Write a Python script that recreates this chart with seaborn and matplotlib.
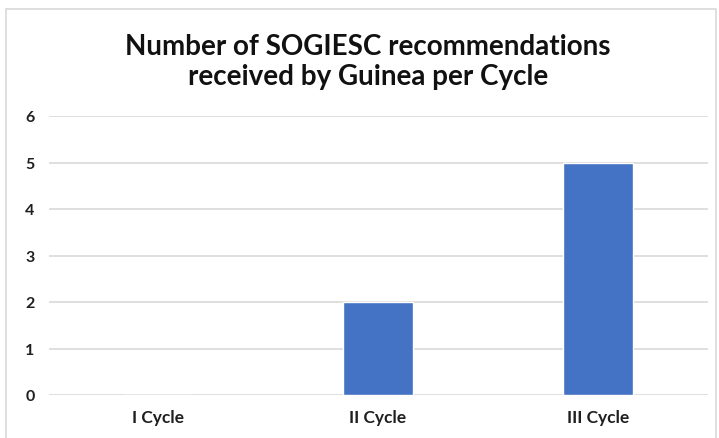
import matplotlib
matplotlib.use("Agg")
import matplotlib.pyplot as plt
import seaborn as sns
import pandas as pd
from matplotlib.patches import Rectangle

# -----------------------------
# Data
# -----------------------------
cycles = ["I Cycle", "II Cycle", "III Cycle"]
recommendations = [0, 2, 5]
y_ticks = [0, 1, 2, 3, 4, 5, 6]

df = pd.DataFrame({"cycle": cycles, "count": recommendations})

# -----------------------------
# Plot
# -----------------------------
sns.set_style("white")
plt.rcParams["font.family"] = ["Lato", "DejaVu Sans"]

W, H = 719, 439
fig = plt.figure(figsize=(W / 100, H / 100), dpi=100)
ax = fig.add_axes([48.5 / W, 1 - 396 / H, (707.5 - 48.5) / W, (396 - 117) / H])

sns.barplot(data=df, x="cycle", y="count", color="#4472C4", width=0.32,
            saturation=1, ax=ax, zorder=3)

ax.set_ylim(0, 6)
ax.set_yticks(y_ticks)
ax.set_xlim(-0.5, 2.5)
ax.grid(axis="y", color="#d9d9d9", linewidth=1.2, zorder=0)
ax.set_axisbelow(True)
for s in ax.spines.values():
    s.set_visible(False)
ax.set_xlabel("")
ax.set_ylabel("")
ax.tick_params(axis="x", length=0, labelsize=12.5, colors="#1f1f1f", pad=10)
ax.tick_params(axis="y", length=0, labelsize=11.5, colors="#1f1f1f", pad=10)
for lbl in ax.get_xticklabels() + ax.get_yticklabels():
    lbl.set_fontweight("bold")

fig.text(368 / W, 1 - 62 / H, "Number of SOGIESC recommendations\nreceived by Guinea per Cycle",
         ha="center", va="center", fontsize=20, fontweight="bold",
         color="#111111", linespacing=1.15)

# chart border
fig.patches.append(Rectangle((6 / W, -0.05), (716 - 6) / W, 1 - 10 / H + 0.05,
                             transform=fig.transFigure, fill=False,
                             edgecolor="#d9d9d9", linewidth=1.2))

fig.savefig("out.png", dpi=100, facecolor="white")
